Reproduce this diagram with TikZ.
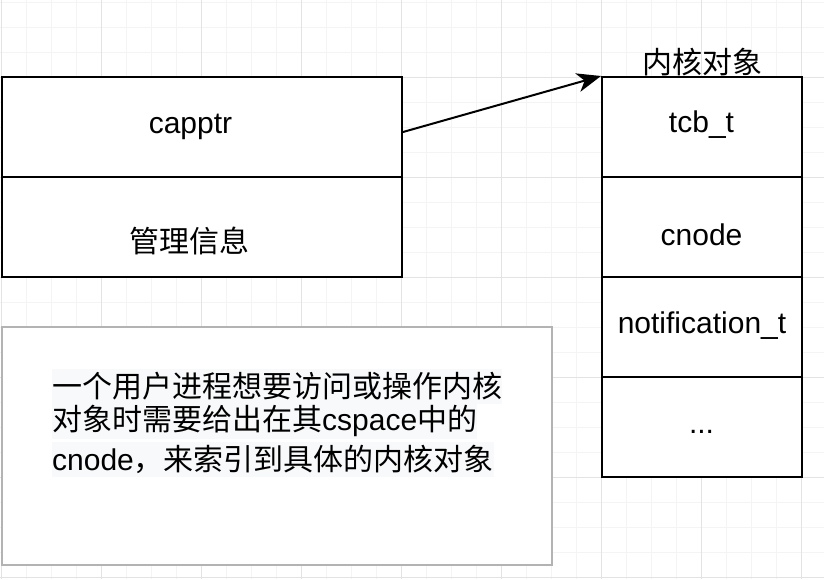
\documentclass[tikz,border=0pt]{standalone}
\usepackage{fontspec}
\setmainfont{Liberation Sans}
\newfontfamily\cjk{Noto Sans CJK SC}
\usetikzlibrary{arrows.meta}
\definecolor{gridminor}{HTML}{F4F4F4}
\definecolor{gridmajor}{HTML}{E3E3E3}
\definecolor{notegray}{HTML}{B3B3B3}
\definecolor{notefill}{HTML}{F8F9FA}

\tikzset{%
  every node/.style={
    inner sep=0pt,
    font=\fontsize{30}{36}\selectfont
  },
  cell/.style={draw, line width=2pt, fill=white,
    minimum width=200pt, minimum height=100pt},
  notebox/.style={draw=notegray, line width=2pt, fill=white,
    minimum width=550pt, minimum height=238pt},
  noteline/.style={anchor=west, fill=notefill, minimum height=35pt}
}

\begin{document}
\begin{tikzpicture}[x=1pt,y=-1pt]
        \useasboundingbox (0,0) rectangle (824,579);
        \fill[white] (0,0) rectangle (824,579);
        % grid
        \foreach \x in {1.5,26.5,...,824} \draw[gridminor, line width=1pt] (\x,0) -- (\x,579);
        \foreach \y in {2,27,...,579} \draw[gridminor, line width=1pt] (0,\y) -- (824,\y);
        \foreach \x in {1.5,101.5,...,824} \draw[gridmajor, line width=1pt] (\x,0) -- (\x,579);
        \foreach \y in {77,177,...,579} \draw[gridmajor, line width=1pt] (0,\y) -- (824,\y);
        \node[notebox] (note) at (277,446) {};
        \node[noteline] (l1) at (52,386.5) {\cjk 一个用户进程想要访问或操作内核};
        \node[noteline] (l2) at (52,421) {{\cjk 对象时需要给出在其}cspace{\cjk 中的}};
        \node[noteline] (l3) at (52,459.5) {cnode{\cjk ，来索引到具体的内核对象}};
        \node[cell, minimum width=400pt] (ptr) at (202,127) {};
        \node[cell, minimum width=400pt] (info) at (202,227) {};
        \node[cell] (tcb) at (702,127) {};
        \node[cell] (cnode) at (702,227) {};
        \node[cell] (ntfn) at (702,327) {};
        \node[cell] (more) at (702,427) {};
        \node[anchor=base] (ptrtext) at (190.5,133) {capptr};
        \node (infotext) at (189.5,241) {\cjk 管理信息};
        \node (objtitle) at (702,62.5) {\cjk 内核对象};
        \node[anchor=base] (tcbtext) at (701.5,132) {tcb\_t};
        \node[anchor=base] (cnodetext) at (701.5,245) {cnode};
        \node[anchor=base] (ntfntext) at (702,333) {notification\_t};
        \node[anchor=base] (moretext) at (701.5,433) {...};
        \draw[line width=2pt, -{Stealth[length=24pt,width=19pt,inset=7pt]}]
          ([yshift=-5pt]ptr.east) -- (tcb.north west);
      \end{tikzpicture}
\end{document}
